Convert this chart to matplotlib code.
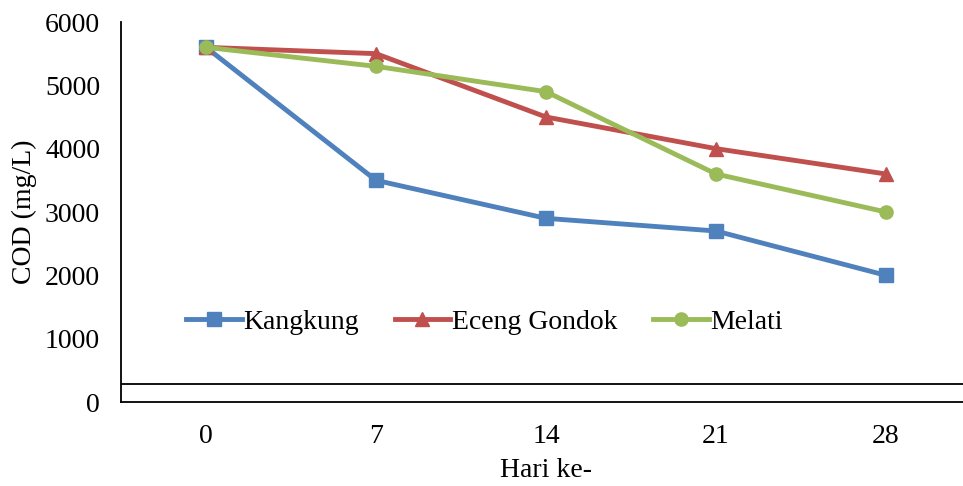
import matplotlib.pyplot as plt
import numpy as np

plt.rcParams['font.family'] = ['Liberation Serif', 'DejaVu Serif']

days = ['0', '7', '14', '21', '28']
kangkung = [5600, 3500, 2900, 2700, 2000]
eceng_gondok = [5600, 5500, 4500, 4000, 3600]
melati = [5600, 5300, 4900, 3600, 3000]
baseline = 290

series = [
    ('Kangkung', kangkung, '#4F81BD', 's', 10),
    ('Eceng Gondok', eceng_gondok, '#C0504D', '^', 10),
    ('Melati', melati, '#9BBB59', 'o', 9.5),
]


def plot_cod():
    """COD over time for each plant"""
    fig = plt.figure(figsize=(9.63, 4.86), dpi=100)
    ax = fig.add_axes([121 / 963, 1 - 402 / 486, 850 / 963, 380 / 486])
    x = np.arange(len(days))
    for name, values, color, marker, size in series:
        ax.plot(x, values, color=color, lw=3.5, marker=marker, ms=size,
                label=name, solid_joinstyle='miter')

    ax.axhline(baseline, color='black', lw=1.3)
    ax.set_xlim(-0.5, 4.5)
    ax.set_ylim(0, 6000)
    ax.set_yticks(range(0, 6001, 1000))
    ax.set_xticks(x)
    ax.set_xticklabels(days)
    ax.tick_params(length=0, labelsize=20)
    ax.tick_params(axis='x', pad=16)
    ax.tick_params(axis='y', pad=15)
    for side in ['top', 'right']:
        ax.spines[side].set_visible(False)
    for side in ['left', 'bottom']:
        ax.spines[side].set_linewidth(1.3)

    ax.set_xlabel('Hari ke-', fontsize=20, labelpad=6)
    ax.set_ylabel('COD (mg/L)', fontsize=20, labelpad=6)

    fig.legend(loc='center left', bbox_to_anchor=(186 / 963, 1 - 322 / 486),
               ncol=3, frameon=False, fontsize=20, handlelength=2.0,
               handletextpad=0.05, columnspacing=1.3, borderpad=0,
               borderaxespad=0)
    fig.savefig('out.png', dpi=100)


if __name__ == '__main__':
    plot_cod()
